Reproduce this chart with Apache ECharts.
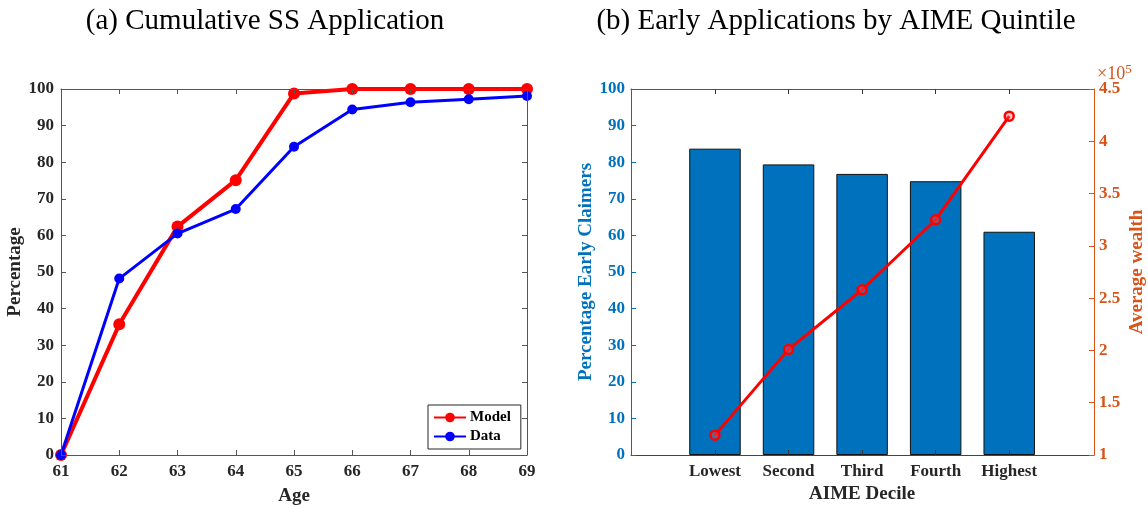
<!DOCTYPE html>
<html>
<head>
<meta charset="utf-8">
<script src="https://cdn.jsdelivr.net/npm/echarts@6/dist/echarts.min.js"></script>
<style>
html,body{margin:0;padding:0;background:#fff;}
#main{width:1148px;height:505px;}
</style>
</head>
<body>
<div id="main"></div>
<script>
// ---- data ----
const ages = [61, 62, 63, 64, 65, 66, 67, 68, 69];
const modelPct = [0, 35.7, 62.4, 75.1, 98.8, 100, 100, 100, 100];
const dataPct = [0, 48.2, 60.5, 67.2, 84.2, 94.4, 96.4, 97.2, 98.1];
const quintiles = ['Lowest', 'Second', 'Third', 'Fourth', 'Highest'];
const earlyClaimPct = [83.7, 79.4, 76.8, 74.8, 61.0];
const avgWealth = [119000, 201000, 258000, 325000, 424000];

const FONT = 'Liberation Serif';
const DARK = '#262626';
const BLUE = '#0072BD';
const ORANGE = '#D95319';
const lbl = {fontFamily: FONT, fontWeight: 'bold', fontSize: 17, color: DARK};
const nameTS = {fontFamily: FONT, fontWeight: 'bold', fontSize: 19, color: DARK};

const chart = echarts.init(document.getElementById('main'));

const option = {
  animation: false,
  backgroundColor: '#fff',
  graphic: [
    {type: 'text', x: 265, y: 21, style: {text: '(a) Cumulative SS Application', font: '29px "Liberation Serif"', fill: '#000', textAlign: 'center', textVerticalAlign: 'middle'}},
    {type: 'text', x: 836, y: 21, style: {text: '(b) Early Applications by AIME Quintile', font: '29px "Liberation Serif"', fill: '#000', textAlign: 'center', textVerticalAlign: 'middle'}},
    {type: 'text', x: 1097, y: 86, style: {
      text: '{a|×10}{b|5}', textVerticalAlign: 'bottom', fill: ORANGE,
      rich: {a: {fontFamily: FONT, fontSize: 18, fill: ORANGE}, b: {fontFamily: FONT, fontSize: 13, fill: ORANGE, verticalAlign: 'top', padding: [0, 0, 10, 0]}}
    }}
  ],
  legend: {
    left: 428, top: 405, orient: 'vertical',
    data: ['Model', 'Data'],
    backgroundColor: '#fff', borderColor: DARK, borderWidth: 1,
    padding: [5, 10, 5, 5], itemGap: 4, itemWidth: 32, itemHeight: 12,
    textStyle: {fontFamily: FONT, fontWeight: 'bold', fontSize: 15, color: '#000', padding: [0, 0, 0, -1]}
  },
  grid: [
    {left: 61, top: 89, width: 466, height: 366, outerBoundsMode: 'none', containLabel: false},
    {left: 631, top: 89, width: 463, height: 366, outerBoundsMode: 'none', containLabel: false},
    {left: 678.2, top: 89, width: 367.8, height: 366, outerBoundsMode: 'none', containLabel: false}
  ],
  xAxis: [
    // grid 0
    {gridIndex: 0, type: 'value', min: 61, max: 69, interval: 1, position: 'bottom', z: 5,
     name: 'Age', nameLocation: 'middle', nameGap: 32, nameTextStyle: nameTS,
     axisLine: {onZero: false, lineStyle: {color: '#555', width: 1}},
     axisTick: {inside: true, length: 5, lineStyle: {color: '#555'}},
     axisLabel: Object.assign({margin: 8}, lbl), splitLine: {show: false}},
    {gridIndex: 0, type: 'value', min: 61, max: 69, interval: 1, position: 'top', z: 5,
     axisLine: {onZero: false, lineStyle: {color: '#555', width: 1}},
     axisTick: {inside: true, length: 5, lineStyle: {color: '#555'}},
     axisLabel: {show: false}, splitLine: {show: false}},
    // grid 1 box lines
    {gridIndex: 1, type: 'value', min: 1, max: 2, position: 'bottom', z: 5,
     axisLine: {onZero: false, lineStyle: {color: '#444', width: 1}}, axisTick: {show: false}, axisLabel: {show: false}, splitLine: {show: false}},
    {gridIndex: 1, type: 'value', min: 1, max: 2, position: 'top', z: 5,
     axisLine: {onZero: false, lineStyle: {color: '#555', width: 1}}, axisTick: {show: false}, axisLabel: {show: false}, splitLine: {show: false}},
    // grid 2 categories
    {gridIndex: 2, type: 'category', data: quintiles, position: 'bottom', z: 6,
     name: 'AIME Decile', nameLocation: 'middle', nameGap: 30, nameTextStyle: nameTS,
     axisLine: {show: false, onZero: false},
     axisTick: {show: true, inside: true, length: 5, alignWithLabel: true, lineStyle: {color: '#333'}},
     axisLabel: Object.assign({margin: 8, interval: 0}, lbl)},
    {gridIndex: 2, type: 'category', data: quintiles, position: 'top', z: 6,
     axisLine: {show: false, onZero: false},
     axisTick: {show: true, inside: true, length: 5, alignWithLabel: true, lineStyle: {color: '#333'}},
     axisLabel: {show: false}}
  ],
  yAxis: [
    // grid 0
    {gridIndex: 0, type: 'value', min: 0, max: 100, interval: 10, position: 'left', z: 5,
     name: 'Percentage', nameLocation: 'middle', nameGap: 33, nameTextStyle: nameTS,
     axisLine: {show: true, onZero: false, lineStyle: {color: '#555', width: 1}},
     axisTick: {show: true, inside: true, length: 5, lineStyle: {color: '#555'}},
     axisLabel: Object.assign({margin: 7}, lbl), splitLine: {show: false}},
    {gridIndex: 0, type: 'value', min: 0, max: 100, interval: 10, position: 'right', z: 5,
     axisLine: {show: true, onZero: false, lineStyle: {color: '#555', width: 1}},
     axisTick: {show: true, inside: true, length: 5, lineStyle: {color: '#555'}},
     axisLabel: {show: false}, splitLine: {show: false}},
    // grid 1 visible axes
    {gridIndex: 1, type: 'value', min: 0, max: 100, interval: 10, position: 'left', z: 6,
     name: 'Percentage Early Claimers', nameLocation: 'middle', nameGap: 33,
     nameTextStyle: Object.assign({}, nameTS, {color: BLUE}),
     axisLine: {show: true, onZero: false, lineStyle: {color: BLUE, width: 1}},
     axisTick: {show: true, inside: true, length: 5, lineStyle: {color: BLUE}},
     axisLabel: Object.assign({}, lbl, {margin: 6, color: BLUE}), splitLine: {show: false}},
    {gridIndex: 1, type: 'value', min: 100000, max: 450000, interval: 50000, position: 'right', z: 6,
     name: 'Average wealth', nameLocation: 'middle', nameGap: 34,
     nameTextStyle: Object.assign({}, nameTS, {color: ORANGE}),
     axisLine: {show: true, onZero: false, lineStyle: {color: ORANGE, width: 1}},
     axisTick: {show: true, inside: true, length: 5, lineStyle: {color: ORANGE}},
     axisLabel: Object.assign({}, lbl, {margin: 5, color: ORANGE, formatter: v => String(v / 100000)}),
     splitLine: {show: false}},
    // grid 2 hidden scales
    {gridIndex: 2, type: 'value', min: 0, max: 100, show: false},
    {gridIndex: 2, type: 'value', min: 100000, max: 450000, show: false}
  ],
  series: [
    {name: 'Model', type: 'line', xAxisIndex: 0, yAxisIndex: 0, z: 3,
     data: ages.map((a, i) => [a, modelPct[i]]),
     symbol: 'circle', symbolSize: 12,
     lineStyle: {color: '#FF0000', width: 4}, itemStyle: {color: '#FF0000'}},
    {name: 'Data', type: 'line', xAxisIndex: 0, yAxisIndex: 0, z: 4,
     data: ages.map((a, i) => [a, dataPct[i]]),
     symbol: 'circle', symbolSize: 10,
     lineStyle: {color: '#0000FF', width: 3}, itemStyle: {color: '#0000FF'}},
    {name: 'Early', type: 'bar', xAxisIndex: 4, yAxisIndex: 4, z: 2,
     data: earlyClaimPct, barWidth: '70%',
     itemStyle: {color: BLUE, borderColor: '#111', borderWidth: 1}},
    {name: 'Wealth', type: 'line', xAxisIndex: 4, yAxisIndex: 5, z: 4,
     data: avgWealth, symbol: 'circle', symbolSize: 9,
     lineStyle: {color: '#FF0000', width: 3},
     itemStyle: {color: 'rgba(255,80,80,0.35)', borderColor: '#FF0000', borderWidth: 2.5}}
  ]
};
chart.setOption(option);
</script>
</body>
</html>
